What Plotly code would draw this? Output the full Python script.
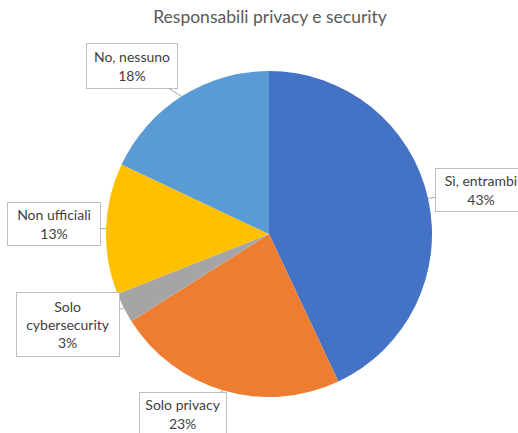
import numpy as np
import plotly.graph_objects as go

# ---- data ----
categories = ["Sì, entrambi", "Solo privacy", "Solo cybersecurity", "Non ufficiali", "No, nessuno"]
label_text = ["Sì, entrambi", "Solo privacy", "Solo<br>cybersecurity", "Non ufficiali", "No, nessuno"]
values = [43, 23, 3, 13, 18]
colors = ["#4472C4", "#ED7D31", "#A5A5A5", "#FFC000", "#5B9BD5"]
title = "Responsabili privacy e security"

# ---- layout geometry (pixels) ----
W, H = 518, 433
cx, cy, r = 269, 234, 163
box_centers = [(481, 190), (183, 414), (68, 324), (54, 224), (132, 66)]
box_sizes = [(90, 42), (86, 42), (102, 63), (92, 42), (90, 44)]

fig = go.Figure(go.Pie(
    labels=categories, values=values, sort=False, direction="clockwise", rotation=0,
    marker=dict(colors=colors, line=dict(width=0)),
    textinfo="none", hoverinfo="label+percent", showlegend=False,
    domain=dict(x=[(cx - r) / W, (cx + r) / W], y=[1 - (cy + r) / H, 1 - (cy - r) / H]),
))

total = float(sum(values))
cum = np.cumsum([0] + values[:-1])
anns = []
for i, v in enumerate(values):
    theta = np.deg2rad((cum[i] + v / 2) / total * 360)
    tx = cx + r * np.sin(theta)
    ty = cy - r * np.cos(theta)
    bx, by = box_centers[i]
    bw, bh = box_sizes[i]
    anns.append(dict(
        x=tx / W, y=1 - ty / H, xref="paper", yref="paper",
        ax=bx - tx, ay=by - ty, axref="pixel", ayref="pixel",
        text=f"{label_text[i]}<br>{round(v / total * 100)}%",
        width=bw, height=bh,
        showarrow=True, arrowhead=0, arrowwidth=1, arrowcolor="#A6A6A6",
        bgcolor="white", bordercolor="#BFBFBF", borderwidth=1, borderpad=0,
        font=dict(family="Lato, Open Sans, sans-serif", size=14, color="#404040"),
        align="center", valign="middle",
    ))

fig.update_layout(
    width=W, height=H, margin=dict(l=0, r=0, t=0, b=0),
    paper_bgcolor="white", plot_bgcolor="white",
    title=dict(text=title, x=270 / W, xanchor="center", y=1 - 17 / H, yanchor="middle",
               font=dict(family="Lato, Open Sans, sans-serif", size=17.5, color="#595959")),
    annotations=anns,
)

fig.write_html("out.html", config={"displayModeBar": False},
               post_script="document.body.style.margin='0';")
